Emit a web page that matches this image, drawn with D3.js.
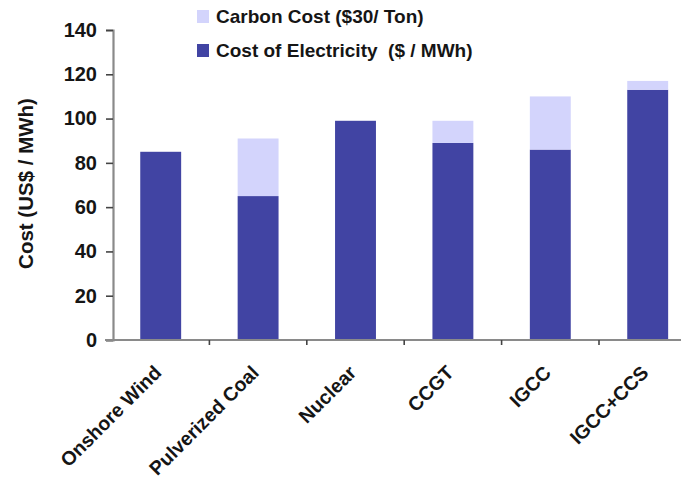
<!DOCTYPE html>
<html>
<head>
<meta charset="utf-8">
<script src="https://cdn.jsdelivr.net/npm/d3@7"></script>
<style>
  html, body { margin: 0; padding: 0; background: #fff; }
  svg { display: block; }
  text { font-family: "Liberation Sans", Arial, sans-serif; font-weight: bold; fill: #151515; white-space: pre; }
</style>
</head>
<body>
<svg id="chart" width="681" height="480"></svg>
<script>
// Levelised cost of generation by technology, with a $30/ton carbon adder stacked on top
const categories = ["Onshore Wind", "Pulverized Coal", "Nuclear", "CCGT", "IGCC", "IGCC+CCS"];
const electricityCost = [85, 65, 99, 89, 86, 113];
const carbonCost = [0, 26, 0, 10, 24, 4];
const yTicks = [0, 20, 40, 60, 80, 100, 120, 140];
const seriesNames = ["Carbon Cost ($30/ Ton)", "Cost of Electricity  ($ / MWh)"];
const axisTitle = "Cost (US$ / MWh)";

const colors = { electricity: "#4144a3", carbon: "#d3d4fc" };

const svg = d3.select("#chart");
const plot = { left: 112, right: 696.4, top: 30, bottom: 340 };

const x = d3.scaleBand().domain(categories).range([plot.left, plot.right]).padding(0);
const y = d3.scaleLinear().domain([0, 140]).range([plot.bottom, plot.top]);
const barW = x.bandwidth() * 0.42;

const rows = categories.map((c, i) => ({ cat: c, elec: electricityCost[i], carbon: carbonCost[i] }));
const stack = d3.stack().keys(["elec", "carbon"])(rows);
const fills = [colors.electricity, colors.carbon];

// stacked bars
svg.append("g").selectAll("g").data(stack).join("g")
  .attr("fill", (d, i) => fills[i])
  .selectAll("rect").data(d => d.filter(s => s[1] > s[0])).join("rect")
  .attr("x", d => x(d.data.cat) + (x.bandwidth() - barW) / 2)
  .attr("width", barW)
  .attr("y", d => y(d[1]))
  .attr("height", d => y(d[0]) - y(d[1]));

// y axis
const yAxis = svg.append("g").attr("transform", `translate(${plot.left + 1},0)`)
  .call(d3.axisLeft(y).tickValues(yTicks).tickSize(7).tickPadding(9));
yAxis.select(".domain").attr("stroke", "#8a8a8a").attr("stroke-width", 2.2);
yAxis.selectAll(".tick line").attr("stroke", "#444").attr("stroke-width", 1.6);
yAxis.selectAll(".tick text").attr("font-size", 20).attr("fill", "#151515")
  .attr("font-family", "Liberation Sans, Arial, sans-serif").attr("font-weight", "bold");

// x axis with tick marks between categories
const xAxisG = svg.append("g").attr("transform", `translate(0,${plot.bottom})`);
xAxisG.append("line")
  .attr("x1", plot.left - 7).attr("x2", 681)
  .attr("stroke", "#8a8a8a").attr("stroke-width", 2.2);
xAxisG.selectAll("line.tk").data(categories.slice(1)).join("line")
  .attr("class", "tk")
  .attr("x1", d => x(d)).attr("x2", d => x(d))
  .attr("y1", 0).attr("y2", 5)
  .attr("stroke", "#444").attr("stroke-width", 1.6);

// rotated category labels
svg.append("g").selectAll("text").data(categories).join("text")
  .attr("transform", d => `translate(${x(d) + x.bandwidth() / 2 - 8},${plot.bottom + 24}) rotate(-45)`)
  .attr("text-anchor", "end")
  .attr("dy", "0.72em")
  .attr("font-size", 19.5)
  .text(d => d);

// axis title
svg.append("text")
  .attr("transform", `translate(33,${(95 + 272) / 2}) rotate(-90)`)
  .attr("text-anchor", "middle")
  .attr("font-size", 20.5)
  .text(axisTitle);

// legend
const legend = svg.append("g").attr("transform", "translate(197,0)");
const legendItems = [
  { name: seriesNames[0], color: colors.carbon, base: 23 },
  { name: seriesNames[1], color: colors.electricity, base: 57 }
];
legend.selectAll("rect").data(legendItems).join("rect")
  .attr("x", 0).attr("y", d => d.base - 13)
  .attr("width", 12).attr("height", 13)
  .attr("fill", d => d.color);
legend.selectAll("text").data(legendItems).join("text")
  .attr("x", 19).attr("y", d => d.base)
  .attr("font-size", 19)
  .text(d => d.name);
</script>
</body>
</html>
